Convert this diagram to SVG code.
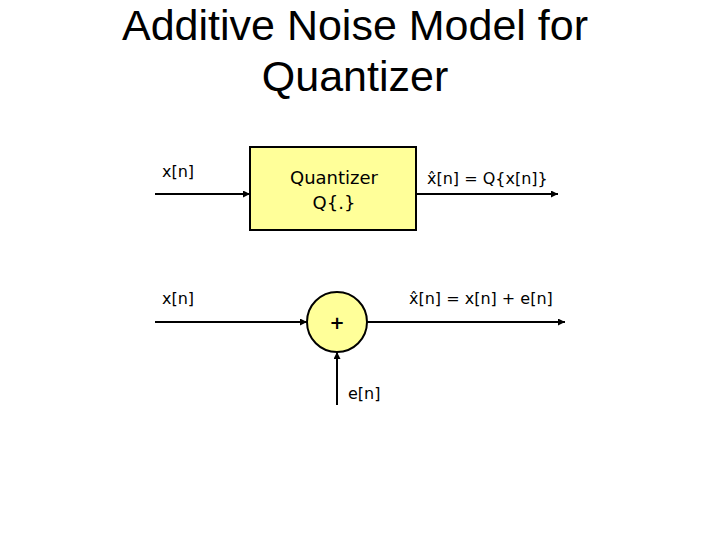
<svg xmlns="http://www.w3.org/2000/svg" width="720" height="540" viewBox="0 0 720 540">
<defs>
<marker id="ah" viewBox="0 0 10 10" refX="10" refY="5" markerWidth="7" markerHeight="7" markerUnits="userSpaceOnUse" orient="auto"><path d="M0,0 L10,5 L0,10 z" fill="#000"/></marker>
<style>
.t{font-family:"DejaVu Sans","Liberation Sans",sans-serif;font-size:16px;fill:#000}
.q{font-size:18px}
.title{font-family:"Liberation Sans",Arial,sans-serif;font-size:43px;fill:#000;text-anchor:middle}
.ln{stroke:#000;stroke-width:2;fill:none;marker-end:url(#ah)}
</style>
</defs>
<rect width="720" height="540" fill="#fff"/>
<text class="title" x="355" y="40">Additive Noise Model for</text>
<text class="title" x="355" y="91">Quantizer</text>
<g id="connectors">
<line class="ln" x1="155" y1="194" x2="250" y2="194"/>
<line class="ln" x1="416" y1="194" x2="558" y2="194"/>
<line class="ln" x1="155" y1="322" x2="307" y2="322"/>
<line class="ln" x1="367" y1="322" x2="565" y2="322"/>
<line class="ln" x1="337" y1="405" x2="337" y2="352"/>
</g>
<g id="quantizer">
<rect x="250" y="147" width="166" height="83" fill="#ffff99" stroke="#000" stroke-width="2"/>
<text class="t q" x="334" y="184" text-anchor="middle">Quantizer</text>
<text class="t q" x="334" y="209" text-anchor="middle">Q{.}</text>
</g>
<g id="adder">
<circle cx="337" cy="322" r="30" fill="#ffff99" stroke="#000" stroke-width="2"/>
<text x="337" y="329" text-anchor="middle" style="font-family:'DejaVu Sans',sans-serif;font-size:18px;font-weight:bold">+</text>
</g>
<g id="labels">
<text class="t" x="162" y="177">x[n]</text>
<text class="t" x="162" y="304">x[n]</text>
<text class="t" x="427" y="184">x̂[n] = Q{x[n]}</text>
<text class="t" x="409" y="304">x̂[n] = x[n] + e[n]</text>
<text class="t" x="348" y="399">e[n]</text>
</g>
</svg>
